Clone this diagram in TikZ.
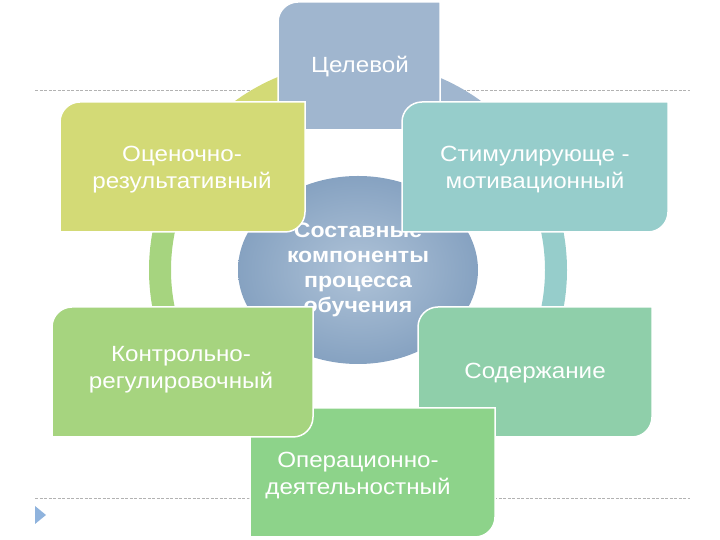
\documentclass[tikz,border=0pt]{standalone}
\usepackage{fontspec}
\setmainfont{Liberation Sans}[FakeStretch=1.1]
\usetikzlibrary{shapes.geometric}
\definecolor{cCel}{HTML}{A0B6CF}
\definecolor{cOcen}{HTML}{D3DA76}
\definecolor{cStim}{HTML}{96CDCB}
\definecolor{cKontr}{HTML}{A6D47F}
\definecolor{cSod}{HTML}{8FCFAA}
\definecolor{cOper}{HTML}{8DD38A}
\definecolor{cCoreIn}{HTML}{AFC3D8}
\definecolor{cCoreOut}{HTML}{86A2C1}
\definecolor{cTri}{HTML}{8FB3DD}
\newcommand\ringseg[3]{\fill[#3, shift={(358,270)}] (#1:209) arc[start angle=#1, end angle=#2, radius=209pt] -- (#2:187) arc[start angle=#2, end angle=#1, radius=187pt] -- cycle;}
\newcommand\cbox[5]{\path[fill=#5, draw=white, line width=1.5pt] (#1,#2) -- (#1,#4-20) arc[start angle=180, end angle=90, radius=20pt] -- (#3,#4) -- (#3,#2+20) arc[start angle=0, end angle=-90, radius=20pt] -- cycle;}
\begin{document}
\begin{tikzpicture}[x=1pt,y=1pt,
  btext/.style={text=white, align=center, inner sep=0pt, font=\fontsize{22}{27}\selectfont},
  dashline/.style={draw=black!30, line width=0.8pt, dash pattern=on 3pt off 1.5pt}]
\useasboundingbox (0,0) rectangle (720,540);
% guide lines
\coordinate (t1) at (35,450); \coordinate (t2) at (690,450);
\coordinate (b1) at (35,42); \coordinate (b2) at (690,42);
\draw[dashline] (t1) -- (t2);
\draw[dashline] (b1) -- (b2);
\fill[cTri] (35,34) -- (46,25) -- (35,16) -- cycle;
% ring
\ringseg{150}{90}{cOcen}
\ringseg{90}{30}{cCel}
\ringseg{30}{-30}{cStim}
\ringseg{-30}{-90}{cSod}
\ringseg{210}{150}{cKontr}
% core
\node[ellipse, minimum width=240pt, minimum height=188pt, inner sep=0pt,
  inner color=cCoreIn, outer color=cCoreOut, text=white, align=center,
  font=\bfseries\fontsize{21}{25}\selectfont] (core) at (358,270)
  {Составные\\компоненты\\процесса\\обучения};
% boxes
\cbox{278}{410}{440}{538}{cCel}
\node[btext] (cel) at (360,473) {Целевой};
\cbox{402}{308}{668}{438}{cStim}
\node[btext] (stim) at (535,370) {Стимулирующе -\\мотивационный};
\cbox{418}{103}{652}{233}{cSod}
\node[btext] (sod) at (535,167) {Содержание};
\cbox{250}{3}{495}{132}{cOper}
\node[btext] (oper) at (358,64) {Операционно-\\деятельностный};
\cbox{52}{103}{313}{233}{cKontr}
\node[btext] (kontr) at (181,170) {Контрольно-\\регулировочный};
\cbox{60}{308}{305}{438}{cOcen}
\node[btext] (ocen) at (182,370) {Оценочно-\\результативный};
\end{tikzpicture}
\end{document}
